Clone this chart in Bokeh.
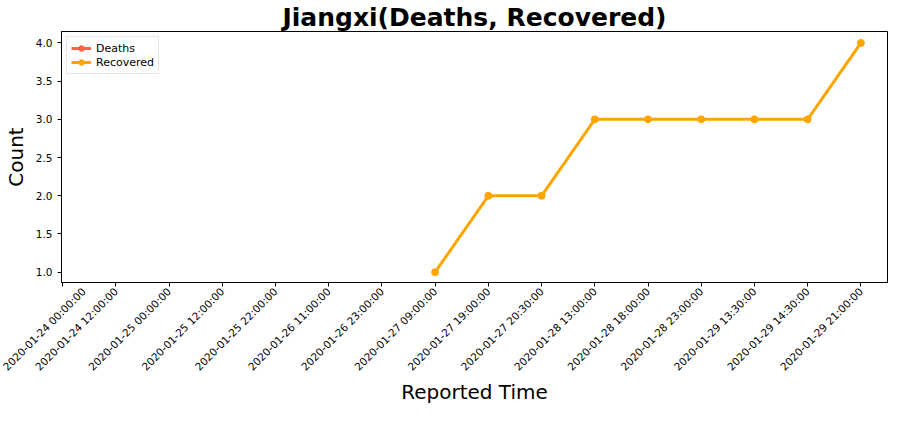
import math
from bokeh.plotting import figure
from bokeh.models import ColumnDataSource, Range1d, FixedTicker, PrintfTickFormatter
from bokeh.embed import file_html
from bokeh.resources import INLINE

times = ["2020-01-24 00:00:00", "2020-01-24 12:00:00", "2020-01-25 00:00:00",
         "2020-01-25 12:00:00", "2020-01-25 22:00:00", "2020-01-26 11:00:00",
         "2020-01-26 23:00:00", "2020-01-27 09:00:00", "2020-01-27 19:00:00",
         "2020-01-27 20:30:00", "2020-01-28 13:00:00", "2020-01-28 18:00:00",
         "2020-01-28 23:00:00", "2020-01-29 13:30:00", "2020-01-29 14:30:00",
         "2020-01-29 21:00:00"]
nan = float("nan")
deaths = [nan] * 16
recovered = [nan, nan, nan, nan, nan, nan, nan, 1, 2, 2, 3, 3, 3, 3, 3, 4]

idx = list(range(len(times)))
src = ColumnDataSource(dict(x=idx, d=deaths, r=recovered))

p = figure(width=900, height=406, output_backend="svg", toolbar_location=None,
           x_range=Range1d(-0.02, 15.5), y_range=Range1d(0.865, 4.15),
           min_border_left=45, min_border_right=13, min_border_bottom=0,
           min_border_top=0)
p.title.text = "Jiangxi(Deaths, Recovered)"
p.title.align = "center"
p.title.text_font = "DejaVu Sans"
p.title.text_font_size = "25px"
p.title.text_font_style = "bold"
p.title.text_color = "black"
p.title.standoff = 0
p.title.offset = 0

p.line("x", "d", source=src, line_color="tomato", line_width=3, legend_label="Deaths")
p.scatter("x", "d", source=src, color="tomato", size=7, legend_label="Deaths")
p.line("x", "r", source=src, line_color="orange", line_width=3, legend_label="Recovered")
p.scatter("x", "r", source=src, color="orange", size=7, legend_label="Recovered")

p.xgrid.visible = False
p.ygrid.visible = False
p.outline_line_color = "black"
p.xaxis.ticker = FixedTicker(ticks=idx)
p.xaxis.major_label_overrides = {i: t for i, t in enumerate(times)}
p.xaxis.major_label_orientation = math.pi / 4
p.xaxis.axis_label_standoff = 0
p.xaxis.major_label_standoff = 3
p.yaxis.ticker = FixedTicker(ticks=[1.0, 1.5, 2.0, 2.5, 3.0, 3.5, 4.0])
p.yaxis.formatter = PrintfTickFormatter(format="%.1f")
for ax in (p.xaxis, p.yaxis):
    ax.major_label_text_font = "DejaVu Sans"
    ax.major_label_text_font_size = "10.5px"
    ax.major_label_text_color = "black"
    ax.axis_label_text_font = "DejaVu Sans"
    ax.axis_label_text_font_size = "20px"
    ax.axis_label_text_font_style = "normal"
    ax.axis_label_text_color = "black"
    ax.axis_line_color = "black"
    ax.major_tick_line_color = "black"
    ax.minor_tick_line_color = None
    ax.major_tick_out = 4
    ax.major_tick_in = 0
p.xaxis.axis_label = "Reported Time"
p.yaxis.axis_label = "Count"

p.legend.location = "top_left"
p.legend.label_text_font = "DejaVu Sans"
p.legend.label_text_font_size = "11px"
p.legend.label_text_color = "black"
p.legend.glyph_height = 14
p.legend.label_height = 14
p.legend.spacing = 0
p.legend.padding = 4
p.legend.margin = 5
p.legend.border_line_color = "#cccccc"

open("out.html", "w").write(file_html(p, INLINE))
